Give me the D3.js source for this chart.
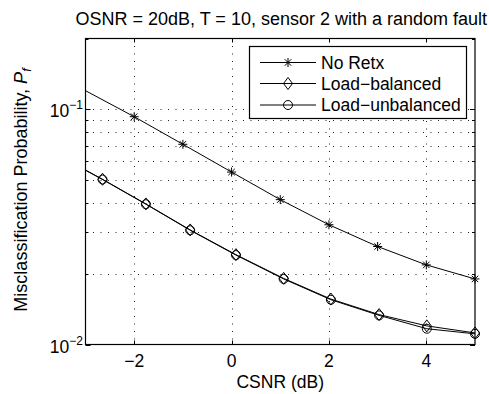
<!DOCTYPE html>
<html><head><meta charset="utf-8">
<script src="https://cdn.jsdelivr.net/npm/d3@7"></script>
<style>
body{margin:0;background:#fff;}
text{font-family:"Liberation Sans",Arial,Helvetica,sans-serif;fill:#000;}
</style></head>
<body><svg id="c" width="489" height="394"></svg>
<script>
// ---- data ----
const title = "OSNR = 20dB, T = 10, sensor 2 with a random fault";
const xLabel = "CSNR (dB)";
const seriesNames = ["No Retx", "Load\u2212balanced", "Load\u2212unbalanced"];
const xDomain = [-3, 5];
const yDomain = [0.01, 0.2];
const xTicks = [-2, 0, 2, 4];
const yMajorTicks = [0.01, 0.1];
const yMinorTicks = [0.02,0.03,0.04,0.05,0.06,0.07,0.08,0.09,0.2];
// first point of each series is the line entering from the left edge (no marker)
const noRetxX = [-3, -2, -1, 0, 1, 2, 3, 4, 5];
const noRetxY = [0.120, 0.0930, 0.0710, 0.0541, 0.0413, 0.0323, 0.0261, 0.0218, 0.0190];
const balX = [-3, -2.65, -1.76, -0.85, 0.09, 1.07, 2.04, 3.03, 4.01, 5];
const balY = [0.0552, 0.0504, 0.0396, 0.0307, 0.0241, 0.0191, 0.0156, 0.0134, 0.0120, 0.0112];
const unbalX = [-3, -2.65, -1.76, -0.85, 0.09, 1.07, 2.04, 3.03, 4.01, 5];
const unbalY = [0.0550, 0.0503, 0.0395, 0.0306, 0.0240, 0.0190, 0.0155, 0.0133, 0.01167, 0.0111];

const svg = d3.select("#c");
const L = 85.5, R = 475, T = 38.5, B = 344.5;
const x = d3.scaleLinear().domain(xDomain).range([L, R]);
const y = d3.scaleLog().domain(yDomain).range([B, T]);
const FS = 17.5;

// grid
const grid = svg.append("g").attr("stroke", "#222").attr("stroke-width", 1)
  .attr("stroke-dasharray", "1,6.5");
xTicks.forEach(v => grid.append("line").attr("x1", Math.round(x(v))+0.5).attr("x2", Math.round(x(v))+0.5)
  .attr("y1", T).attr("y2", B));
yMajorTicks.concat(yMinorTicks).forEach(v => {
  const yy = Math.round(y(v)) + 0.5;
  if (yy > T + 1 && yy < B - 1)
    grid.append("line").attr("x1", L).attr("x2", R).attr("y1", yy).attr("y2", yy);
});

// ticks inside on all sides
const tk = svg.append("g").attr("stroke", "#000").attr("stroke-width", 1);
xTicks.forEach(v => {
  const xx = Math.round(x(v)) + 0.5;
  tk.append("line").attr("x1", xx).attr("x2", xx).attr("y1", B).attr("y2", B - 4);
  tk.append("line").attr("x1", xx).attr("x2", xx).attr("y1", T).attr("y2", T + 4);
});
yMajorTicks.forEach(v => {
  const yy = Math.round(y(v)) + 0.5;
  tk.append("line").attr("x1", L).attr("x2", L + 5).attr("y1", yy).attr("y2", yy);
  tk.append("line").attr("x1", R).attr("x2", R - 5).attr("y1", yy).attr("y2", yy);
});
yMinorTicks.forEach(v => {
  const yy = Math.round(y(v)) + 0.5;
  tk.append("line").attr("x1", L).attr("x2", L + 3).attr("y1", yy).attr("y2", yy);
  tk.append("line").attr("x1", R).attr("x2", R - 3).attr("y1", yy).attr("y2", yy);
});

// frame
svg.append("rect").attr("x", L).attr("y", T).attr("width", R - L).attr("height", B - T)
  .attr("fill", "none").attr("stroke", "#000").attr("stroke-width", 1.2);

// tick labels
const fmtX = v => (v < 0 ? "\u2212" : "") + Math.abs(v);
xTicks.forEach(v => svg.append("text").attr("x", x(v)).attr("y", 367)
  .attr("text-anchor", "middle").attr("font-size", FS).text(fmtX(v)));
yMajorTicks.forEach(v => {
  const e = Math.round(Math.log10(v));
  const t = svg.append("text").attr("x", 83).attr("y", y(v) + 8)
    .attr("text-anchor", "end").attr("font-size", FS);
  t.append("tspan").text("10");
  t.append("tspan").attr("font-size", 12).attr("dy", -8).text("\u2212" + Math.abs(e));
});

// axis labels & title
svg.append("text").attr("x", (L + R) / 2).attr("y", 388).attr("text-anchor", "middle")
  .attr("font-size", FS).text(xLabel);
svg.append("text").attr("x", (L + R) / 2 + 1).attr("y", 25).attr("text-anchor", "middle")
  .attr("font-size", 18).text(title);
const yl = svg.append("text").attr("transform", "translate(27,190) rotate(-90)")
  .attr("text-anchor", "middle").attr("font-size", 18);
yl.append("tspan").text("Misclassification Probability, ");
yl.append("tspan").attr("font-style", "italic").text("P");
yl.append("tspan").attr("font-style", "italic").attr("font-size", 12.5).attr("dy", 4).text("f");

// markers
function drawMarker(g, type, cx, cy) {
  if (type === "star") {
    const r = 4.5;
    [[r,0],[0,r],[r*0.72,r*0.72],[r*0.72,-r*0.72]].forEach(([dx,dy]) =>
      g.append("line").attr("x1", cx - dx).attr("x2", cx + dx).attr("y1", cy - dy).attr("y2", cy + dy)
        .attr("stroke", "#000").attr("stroke-width", 1));
  } else if (type === "diamond") {
    g.append("path").attr("d", `M${cx},${cy-6}L${cx+4.5},${cy}L${cx},${cy+6}L${cx-4.5},${cy}Z`)
      .attr("fill", "none").attr("stroke", "#000").attr("stroke-width", 1);
  } else {
    g.append("circle").attr("cx", cx).attr("cy", cy).attr("r", 4.5)
      .attr("fill", "none").attr("stroke", "#000").attr("stroke-width", 1);
  }
}

const series = [
  {xs: noRetxX, ys: noRetxY, m: "star"},
  {xs: balX, ys: balY, m: "diamond"},
  {xs: unbalX, ys: unbalY, m: "circle"}
];
const line = d3.line().x(d => x(d[0])).y(d => y(d[1]));
series.forEach(s => {
  const pts = s.xs.map((v, i) => [v, s.ys[i]]);
  svg.append("path").attr("d", line(pts)).attr("fill", "none").attr("stroke", "#000").attr("stroke-width", 1);
  const g = svg.append("g");
  pts.slice(1).forEach(p => drawMarker(g, s.m, x(p[0]), y(p[1])));
});

// legend
const lg = svg.append("g");
lg.append("rect").attr("x", 249.5).attr("y", 46.5).attr("width", 217).attr("height", 72)
  .attr("fill", "#fff").attr("stroke", "#000").attr("stroke-width", 1.2);
const rowsY = [62.5, 83.5, 105];
series.forEach((s, i) => {
  lg.append("line").attr("x1", 260).attr("x2", 316).attr("y1", rowsY[i]).attr("y2", rowsY[i])
    .attr("stroke", "#000").attr("stroke-width", 1);
  drawMarker(lg, s.m, 288, rowsY[i]);
  lg.append("text").attr("x", 321).attr("y", rowsY[i] + 6).attr("font-size", FS).text(seriesNames[i]);
});
</script></body></html>
